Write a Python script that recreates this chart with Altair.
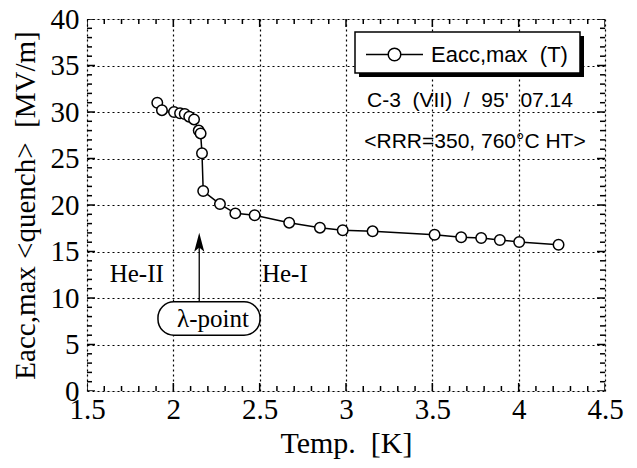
import altair as alt
import pandas as pd

# ---- data ----
temp_K = [1.907, 1.934, 2.004, 2.039, 2.066, 2.092, 2.12, 2.147, 2.158, 2.166, 2.173,
          2.27, 2.359, 2.471, 2.671, 2.849, 2.981, 3.154, 3.513, 3.667, 3.783, 3.891,
          4.003, 4.231]
eacc_max = [31.0, 30.2, 30.0, 29.86, 29.78, 29.5, 29.2, 28.0, 27.7, 25.56, 21.5,
            20.1, 19.1, 18.9, 18.1, 17.56, 17.28, 17.17, 16.8, 16.53, 16.45, 16.24,
            16.02, 15.73]
series_name = "Eacc,max\u00a0\u00a0(T)"

x_major = [1.5, 2.0, 2.5, 3.0, 3.5, 4.0, 4.5]
y_major = [0, 5, 10, 15, 20, 25, 30, 35, 40]
x_minor = [round(1.5 + 0.1 * i, 1) for i in range(31) if i % 5 != 0]
y_minor = [i for i in range(41) if i % 5 != 0]

note_texts = ["C-3\u00a0\u00a0(VII)\u00a0\u00a0/\u00a0\u00a095'\u00a0\u00a007.14",
              "<RRR=350,\u00a0760\u00b0C\u00a0HT>"]
note_T = [3.718, 3.747]
note_E = [31.2, 26.8]

phase_texts = ["He-II", "He-I"]
phase_T = [1.788, 2.646]
phase_E = [12.6, 12.6]

lambda_T = 2.15
lambda_box = [1.911, 2.502, 6.0, 9.6]   # T1, T2, E1, E2
lambda_label = "\u03bb-point"
arrow_head_E = 16.0

W, H = 518, 372
serif = "'Liberation Serif', 'Times New Roman', 'DejaVu Serif', serif"
sans = "'Liberation Sans', Arial, Helvetica, sans-serif"

xs = alt.Scale(domain=[1.5, 4.5], nice=False, zero=False)
ys = alt.Scale(domain=[0, 40], nice=False, zero=False)

x_axis = alt.Axis(values=x_major, format=".1~f", title="Temp.\u00a0\u00a0[K]",
                  grid=True, ticks=False, domain=False,
                  labelFont=serif, labelFontSize=29, labelPadding=4, labelFlush=False,
                  labelOverlap=False, labelColor="black",
                  titleFont=serif, titleFontSize=30, titleFontWeight="normal",
                  titleColor="black", titlePadding=4,
                  gridColor="black", gridDash=[2, 3], gridWidth=1.2)
y_axis = alt.Axis(values=y_major, format="d", title="Eacc,max\u00a0<quench>\u00a0\u00a0[MV/m]",
                  grid=True, ticks=False, domain=False,
                  labelFont=serif, labelFontSize=29, labelPadding=8, labelFlush=False,
                  labelOverlap=False, labelColor="black",
                  titleFont=serif, titleFontSize=29, titleFontWeight="normal",
                  titleColor="black", titlePadding=10,
                  gridColor="black", gridDash=[2, 3], gridWidth=1.2)


def X(f="T"):
    return alt.X(f"{f}:Q", scale=xs, axis=x_axis)


def Y(f="E"):
    return alt.Y(f"{f}:Q", scale=ys, axis=y_axis)


df = pd.DataFrame({"T": temp_K, "E": eacc_max, "series": series_name,
                   "idx": list(range(len(temp_K)))})

line = alt.Chart(df).mark_line(color="black", strokeWidth=1.5).encode(
    x=X(), y=Y(), order="idx:Q")

legend_path = ("M-1,0H-0.22M0.22,0H1M0.22,0A0.22,0.22,0,1,1,-0.22,0"
               "A0.22,0.22,0,1,1,0.22,0")
points = alt.Chart(df).mark_point(shape="circle", filled=False, fill="white",
                                  fillOpacity=1, opacity=1, size=110,
                                  strokeWidth=1.5).encode(
    x=X(), y=Y(),
    color=alt.Color("series:N", scale=alt.Scale(range=["black"]),
                    legend=alt.Legend(orient="none", legendX=278, legendY=6, title=None,
                                      symbolType=legend_path, symbolSize=3249,
                                      symbolStrokeWidth=1.5, symbolStrokeColor="black",
                                      labelFont=sans, labelFontSize=22, labelColor="black",
                                      labelOffset=7, padding=0)))

# inward ticks on all four sides
xt_minor = pd.DataFrame({"T": x_minor * 2, "E": [0] * len(x_minor) + [40] * len(x_minor)})
xt_major = pd.DataFrame({"T": x_major * 2, "E": [0] * len(x_major) + [40] * len(x_major)})
yt_minor = pd.DataFrame({"T": [1.5] * len(y_minor) + [4.5] * len(y_minor), "E": y_minor * 2})
yt_major = pd.DataFrame({"T": [1.5] * len(y_major) + [4.5] * len(y_major), "E": y_major * 2})

ticks = [
    alt.Chart(xt_minor).mark_tick(orient="vertical", size=10, thickness=1.5,
                                  color="black", clip=True, opacity=1).encode(x=X(), y=Y()),
    alt.Chart(xt_major).mark_tick(orient="vertical", size=16, thickness=1.5,
                                  color="black", clip=True, opacity=1).encode(x=X(), y=Y()),
    alt.Chart(yt_minor).mark_tick(orient="horizontal", size=10, thickness=1.5,
                                  color="black", clip=True, opacity=1).encode(x=X(), y=Y()),
    alt.Chart(yt_major).mark_tick(orient="horizontal", size=16, thickness=1.5,
                                  color="black", clip=True, opacity=1).encode(x=X(), y=Y()),
]

one = pd.DataFrame({"k": [0]})
shadow = alt.Chart(one).mark_rect(color="black").encode(
    x=alt.value(272), x2=alt.value(497), y=alt.value(17), y2=alt.value(58))
box = alt.Chart(one).mark_rect(fill="white", stroke="black", strokeWidth=1.5).encode(
    x=alt.value(268), x2=alt.value(493), y=alt.value(13), y2=alt.value(54))

notes = alt.Chart(pd.DataFrame({"T": note_T, "E": note_E, "txt": note_texts})).mark_text(
    font=sans, fontSize=21, color="black", align="center", baseline="middle").encode(
    x=X(), y=Y(), text="txt:N")

phases = alt.Chart(pd.DataFrame({"T": phase_T, "E": phase_E, "txt": phase_texts})).mark_text(
    font=serif, fontSize=25, color="black", align="center", baseline="middle").encode(
    x=X(), y=Y(), text="txt:N")

arrow_df = pd.DataFrame({"T": [lambda_T], "E": [lambda_box[3]], "E2": [arrow_head_E]})
arrow_line = alt.Chart(arrow_df).mark_rule(color="black", strokeWidth=1.3).encode(
    x=X(), y=Y(), y2="E2:Q")
head_df = pd.DataFrame({"T": [lambda_T], "E": [arrow_head_E]})
arrow_head = alt.Chart(head_df).mark_point(
    shape="M0,-1L0.53,1L0,0.55L-0.53,1Z", size=361, filled=True, color="black",
    opacity=1).encode(x=X(), y=Y())

lbox_df = pd.DataFrame({"T": [lambda_box[0]], "T2": [lambda_box[1]],
                        "E": [lambda_box[2]], "E2": [lambda_box[3]]})
lbox = alt.Chart(lbox_df).mark_rect(fill="white", stroke="black", strokeWidth=1.5,
                                    cornerRadius=16).encode(
    x=X(), x2="T2:Q", y=Y(), y2="E2:Q")
ltext_df = pd.DataFrame({"T": [2.23], "E": [7.7], "txt": [lambda_label]})
ltext = alt.Chart(ltext_df).mark_text(font=serif, fontSize=25, color="black",
                                      align="center", baseline="middle").encode(
    x=X(), y=Y(), text="txt:N")

chart = alt.layer(line, points, *ticks, shadow, box, notes, phases,
                  arrow_line, arrow_head, lbox, ltext).properties(
    width=W, height=H,
    autosize=alt.AutoSizeParams(type="none"),
    padding={"left": 79, "top": 11, "right": 20, "bottom": 68},
).configure_view(stroke="black", strokeWidth=2).configure_axis(
    labelFont=serif, titleFont=serif, labelColor="black", titleColor="black"
).configure(background="white")

chart.save("out.html", embed_options={"renderer": "svg", "actions": False})
